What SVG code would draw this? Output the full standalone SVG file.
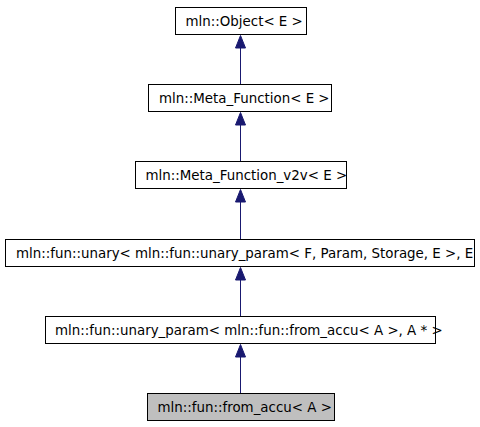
<svg xmlns="http://www.w3.org/2000/svg" width="480" height="427" viewBox="0 0 480 427">
<style>
.box{fill:#ffffff;stroke:#000000;stroke-width:1}
.cur{fill:#bfbfbf;stroke:#000000;stroke-width:1}
.lbl{font-family:"DejaVu Sans","Bitstream Vera Sans",sans-serif;font-size:13.4px;fill:#000000}
.edge{stroke:#191970;stroke-width:1;fill:none}
.head{fill:#191970;stroke:#191970;stroke-width:1}
</style>
<defs>
<clipPath id="clipUnary"><rect x="5" y="239" width="470" height="28"/></clipPath>
</defs>
<rect width="480" height="427" fill="#ffffff"/>
<g id="connectors">
<line class="edge" x1="240.5" y1="48" x2="240.5" y2="84"/>
<polygon class="head" points="240.5,35.5 235.5,48 245.5,48"/>
<line class="edge" x1="240.5" y1="125" x2="240.5" y2="161"/>
<polygon class="head" points="240.5,112.5 235.5,125 245.5,125"/>
<line class="edge" x1="240.5" y1="202" x2="240.5" y2="239"/>
<polygon class="head" points="240.5,189.5 235.5,202 245.5,202"/>
<line class="edge" x1="240.5" y1="280" x2="240.5" y2="316"/>
<polygon class="head" points="240.5,267.5 235.5,280 245.5,280"/>
<line class="edge" x1="240.5" y1="357" x2="240.5" y2="393"/>
<polygon class="head" points="240.5,344.5 235.5,357 245.5,357"/>
</g>
<g id="node-object">
<rect class="box" x="175.5" y="7.5" width="131" height="27"/>
<text class="lbl" x="185.5" y="25.5">mln::Object&lt; E &gt;</text>
</g>
<g id="node-meta-function">
<rect class="box" x="148.5" y="84.5" width="183" height="27"/>
<text class="lbl" x="159" y="102.5">mln::Meta_Function&lt; E &gt;</text>
</g>
<g id="node-meta-function-v2v">
<rect class="box" x="135.5" y="161.5" width="211" height="27"/>
<text class="lbl" x="145.5" y="179.5">mln::Meta_Function_v2v&lt; E &gt;</text>
</g>
<g id="node-unary">
<rect class="box" x="5.5" y="239.5" width="469" height="27"/>
<text class="lbl" x="16" y="257.5" clip-path="url(#clipUnary)">mln::fun::unary&lt; mln::fun::unary_param&lt; F, Param, Storage, E &gt;, E</text>
</g>
<g id="node-unary-param">
<rect class="box" x="45.5" y="316.5" width="390" height="27"/>
<text class="lbl" x="55" y="334.5">mln::fun::unary_param&lt; mln::fun::from_accu&lt; A &gt;, A * &gt;</text>
</g>
<g id="node-from-accu">
<rect class="cur" x="147.5" y="393.5" width="187" height="27"/>
<text class="lbl" x="157.5" y="411.5">mln::fun::from_accu&lt; A &gt;</text>
</g>
</svg>
